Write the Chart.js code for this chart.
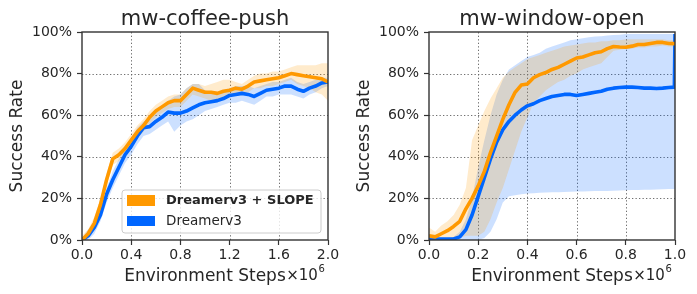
<!DOCTYPE html>
<html><head><meta charset="utf-8">
<script src="https://cdn.jsdelivr.net/npm/chart.js@4.4.1/dist/chart.umd.min.js"></script>
<style>
html,body{margin:0;padding:0;background:#fff;width:697px;height:294px;overflow:hidden}
.box{position:absolute;top:0;height:294px}
canvas{display:block}
</style></head><body>
<div class="box" style="left:0;width:347px"><canvas id="c1" width="347" height="294"></canvas></div>
<div class="box" style="left:347px;width:350px"><canvas id="c2" width="350" height="294"></canvas></div>
<script>
// ---------- data ----------
const seriesNames = ['Dreamerv3 + SLOPE', 'Dreamerv3'];
const panelTitles = ['mw-coffee-push', 'mw-window-open'];
const xAxisTitle = 'Environment Steps';
const yAxisTitle = 'Success Rate';
const yTicks = [0, 20, 40, 60, 80, 100];
const coffeeXTicks = [0, 0.4, 0.8, 1.2, 1.6, 2.0];
const windowXTicks = [0, 0.2, 0.4, 0.6, 0.8, 1.0];

const coffeeSteps = [0,0.05,0.1,0.15,0.2,0.25,0.3,0.35,0.4,0.45,0.5,0.55,0.6,0.65,0.7,0.75,0.8,0.85,0.9,0.95,1.0,1.05,1.1,1.15,1.2,1.25,1.3,1.35,1.4,1.45,1.5,1.55,1.6,1.65,1.7,1.75,1.8,1.85,1.9,1.95,2.0];
const coffeeSlopeMean = [0,3,8,17,29,39,41,44,48,52,55,59,62,64,66,67,67,70,73,72,71,71,70.5,71.5,72,73,72.5,74,76,76.5,77,77.5,78,79,80,79.5,79,78.5,78,77.5,76];
const coffeeSlopeLo = [0,1,6,14,26,36,38,41,45,49,52,56,59,61,63,64,64,67,70,69,68,67,67,68,69,70,70,71,73,73,74,74,75,76,77,75,74,73,71,70,67];
const coffeeSlopeHi = [2,5,11,20,32,42,44,47,51,55,58,62,65,67,69,70,70,73,75,75,74,75,76,77,77,76,75,77,79,80,80,81,81,82,83,84,84,84,84,85,85];
const coffeeBaseMean = [0,2,6,12,22,29,35,41,45,50,54,54.5,57,59,61.5,61,61,62,63.5,65,66,66.5,67,68,69.5,70,70.5,70,69,70.5,72,72.5,73,74,74,72.5,71.5,73,74,75.5,76];
const coffeeBaseLo = [0,0,3,9,18,25,31,37,41,46,50,51,53,55,57,52,55,57,58,60,62,63,64,65,66,66,67,66,65,67,69,69,70,70,70,69,68,70,71,73,74];
const coffeeBaseHi = [1,5,9,15,25,33,39,45,49,54,57,58,61,63,67,69,70,73,75,75,72,71,71,72,73,74,74,74,73,74,75,76,76,77,78,76,75,76,77,78,78];

const windowSteps = [0,0.025,0.05,0.075,0.1,0.125,0.15,0.175,0.2,0.225,0.25,0.275,0.3,0.325,0.35,0.375,0.4,0.425,0.45,0.475,0.5,0.525,0.55,0.575,0.6,0.625,0.65,0.675,0.7,0.725,0.75,0.775,0.8,0.825,0.85,0.875,0.9,0.925,0.95,0.975,0.9975,1.0];
const windowSlopeMean = [2,1.5,3,4.5,6.5,9,15,20,26,33,42,50,58,65,71,74.5,75,78,79.5,80.5,82,83,84.5,86,87.5,88,89,90,90.5,92,93,92.8,92.7,93.2,94,94,94.5,95,95,94.5,94.4,94.4];
const windowSlopeLo = [0,0,0,0,0,1,2,2,2,4,10,18,25,34,43,52,59,66,69,72,74,76,77,79,80,82,83,84,85,88,91,91.5,92,92,92.5,92.5,93,93,93.5,93,93,93];
const windowSlopeHi = [6,4,7,9,12,17,25,48,55,62,68,73,78,81,83,85,87,88,89,90,91,92,93,93.5,94,94.5,95,95,95.5,95.5,96,96,96.5,96.5,96.5,96.5,96.5,96.5,96.5,96,96,96];
const windowBaseMean = [0.5,0.5,0.5,0.5,0.5,1.5,5,12,21,30,39,47,53,57,60,62.5,64.5,65.5,67,68,69,69.5,70,70,69.5,70,70.5,71,71.5,72.5,73,73.3,73.5,73.5,73.3,73,73,72.8,73,73.3,73.5,99];
const windowBaseLo = [0,0,0,0,0,0,0,0,0,1,4,10,18,21,21.5,22,22.3,22.5,22.7,22.8,23,23,23.1,23.2,23.3,23.3,23.4,23.5,23.5,23.6,23.7,23.8,23.9,24,24,24.1,24.2,24.3,24.4,24.5,24.5,24.5];
const windowBaseHi = [1,1,1,1,1.5,4,10,20,35,48,60,70,77,82,84,86,88,89,90,92,93,94,95,96,96.5,97,97.5,97.8,98,98.3,98.5,98.7,99,99,99,99,99,99,99,99,99,99];

// ---------- styling ----------
const FONT = '"DejaVu Sans", sans-serif';
const ORANGE = 'rgb(255,153,0)';
const BLUE = 'rgb(0,102,255)';
const ORANGE_BAND = 'rgba(255,153,0,0.2)';
const BLUE_BAND = 'rgba(0,102,255,0.2)';
const TEXT = '#262626';

function xy(xs, ys) { return xs.map((x, i) => ({ x: x, y: ys[i] })); }

const framePlugin = {
  id: 'frame',
  beforeDatasetsDraw(chart) {
    // dotted grid lines at the scales' tick positions
    const a = chart.chartArea, ctx = chart.ctx;
    ctx.save();
    ctx.strokeStyle = 'rgba(95,95,95,0.9)';
    ctx.lineWidth = 1;
    ctx.setLineDash([1.3, 2.2]);
    chart.scales.x.ticks.forEach(t => {
      const px = Math.round(chart.scales.x.getPixelForValue(t.value)) + 0.5;
      if (px <= a.left + 1 || px >= a.right - 1) return;
      ctx.beginPath(); ctx.moveTo(px, a.bottom); ctx.lineTo(px, a.top); ctx.stroke();
    });
    chart.scales.y.ticks.forEach(t => {
      const py = Math.round(chart.scales.y.getPixelForValue(t.value)) + 0.5;
      if (py <= a.top + 1 || py >= a.bottom - 1) return;
      ctx.beginPath(); ctx.moveTo(a.left, py); ctx.lineTo(a.right, py); ctx.stroke();
    });
    ctx.restore();
  },
  afterDatasetsDraw(chart) {
    const a = chart.chartArea, ctx = chart.ctx;
    ctx.save();
    ctx.strokeStyle = '#333333';
    ctx.lineWidth = 1.4;
    ctx.strokeRect(a.left, a.top, a.right - a.left, a.bottom - a.top);
    ctx.restore();
  },
  afterDraw(chart, args, opts) {
    const a = chart.chartArea, ctx = chart.ctx;
    const cx = (a.left + a.right) / 2;
    ctx.save();
    ctx.fillStyle = TEXT;
    ctx.font = '21px ' + FONT;
    ctx.textAlign = 'center';
    ctx.textBaseline = 'alphabetic';
    ctx.fillText(opts.title, cx, 25);
    ctx.font = '17px ' + FONT;
    const w = ctx.measureText(xAxisTitle).width;
    const x0 = cx + w / 2 + 0.5;
    ctx.textAlign = 'left';
    ctx.font = '15px ' + FONT;
    ctx.fillText('×10', x0, 280);
    const w2 = ctx.measureText('×10').width;
    ctx.font = '10px ' + FONT;
    ctx.fillText('6', x0 + w2 + 0.5, 272);
    if (opts.legend) {
      const bx = 122, by = 190, bw = 199, bh = 43, r = 3;
      ctx.beginPath();
      ctx.moveTo(bx + r, by);
      ctx.arcTo(bx + bw, by, bx + bw, by + bh, r);
      ctx.arcTo(bx + bw, by + bh, bx, by + bh, r);
      ctx.arcTo(bx, by + bh, bx, by, r);
      ctx.arcTo(bx, by, bx + bw, by, r);
      ctx.closePath();
      ctx.fillStyle = 'rgba(255,255,255,0.8)';
      ctx.fill();
      ctx.strokeStyle = '#cccccc';
      ctx.lineWidth = 1;
      ctx.stroke();
      ctx.fillStyle = ORANGE;
      ctx.fillRect(127, 195, 28, 11);
      ctx.fillStyle = BLUE;
      ctx.fillRect(127, 216, 28, 10);
      ctx.fillStyle = TEXT;
      ctx.textBaseline = 'middle';
      ctx.font = 'bold 13px ' + FONT;
      ctx.fillText(seriesNames[0], 166, 201);
      ctx.font = '13.5px ' + FONT;
      ctx.fillText(seriesNames[1], 166, 221.5);
    }
    ctx.restore();
  }
};

function makeChart(id, cfg) {
  const band = (data, color, fill, order) => ({
    data: data, borderWidth: 0, borderColor: 'transparent', pointRadius: 0,
    fill: fill, backgroundColor: color, order: order, tension: 0
  });
  const axisGrid = { drawOnChartArea: false, drawTicks: true, color: 'transparent', tickLength: 5,
                     tickColor: '#333333', tickWidth: 1.2 };
  return new Chart(document.getElementById(id), {
    type: 'line',
    data: {
      datasets: [
        band(xy(cfg.steps, cfg.baseLo), 'transparent', false, 4),
        band(xy(cfg.steps, cfg.baseHi), BLUE_BAND, '-1', 4),
        band(xy(cfg.steps, cfg.slopeLo), 'transparent', false, 3),
        band(xy(cfg.steps, cfg.slopeHi), ORANGE_BAND, '-1', 3),
        { label: seriesNames[1], data: xy(cfg.steps, cfg.baseMean), borderColor: BLUE, borderWidth: 3.6,
          pointRadius: 0, fill: false, order: 2, tension: 0, borderJoinStyle: 'round' },
        { label: seriesNames[0], data: xy(cfg.steps, cfg.slopeMean), borderColor: ORANGE, borderWidth: 3.6,
          pointRadius: 0, fill: false, order: 1, tension: 0, borderJoinStyle: 'round' }
      ]
    },
    options: {
      responsive: false, animation: false, devicePixelRatio: 1,
      layout: { padding: { top: 32, right: cfg.padRight, bottom: 0, left: 0 } },
      plugins: {
        legend: { display: false }, tooltip: { enabled: false },
        frame: { title: cfg.title, legend: cfg.legend }
      },
      scales: {
        x: {
          type: 'linear', min: 0, max: cfg.xMax,
          afterBuildTicks: s => { s.ticks = cfg.xTicks.map(v => ({ value: v })); },
          afterFit: s => { s.height = 54; },
          ticks: { callback: v => Number(v).toFixed(1), font: { family: FONT, size: 14 }, color: TEXT,
                   padding: 2, maxRotation: 0, autoSkip: false },
          grid: axisGrid,
          border: { display: false },
          title: { display: true, text: xAxisTitle, font: { family: FONT, size: 17 }, color: TEXT,
                   padding: { top: 0, bottom: 7 } }
        },
        y: {
          min: 0, max: 100,
          afterBuildTicks: s => { s.ticks = yTicks.map(v => ({ value: v })); },
          afterFit: s => { s.width = 82; },
          ticks: { callback: v => v + '%', font: { family: FONT, size: 14 }, color: TEXT, padding: 5 },
          grid: axisGrid,
          border: { display: false },
          title: { display: true, text: yAxisTitle, font: { family: FONT, size: 17 }, color: TEXT,
                   padding: { top: 7, bottom: 0 } }
        }
      }
    },
    plugins: [framePlugin]
  });
}

makeChart('c1', {
  title: panelTitles[0], legend: true, padRight: 19, xMax: 2.0, xTicks: coffeeXTicks,
  steps: coffeeSteps, slopeMean: coffeeSlopeMean, slopeLo: coffeeSlopeLo, slopeHi: coffeeSlopeHi,
  baseMean: coffeeBaseMean, baseLo: coffeeBaseLo, baseHi: coffeeBaseHi
});
makeChart('c2', {
  title: panelTitles[1], legend: false, padRight: 22, xMax: 1.0, xTicks: windowXTicks,
  steps: windowSteps, slopeMean: windowSlopeMean, slopeLo: windowSlopeLo, slopeHi: windowSlopeHi,
  baseMean: windowBaseMean, baseLo: windowBaseLo, baseHi: windowBaseHi
});
</script>
</body></html>
